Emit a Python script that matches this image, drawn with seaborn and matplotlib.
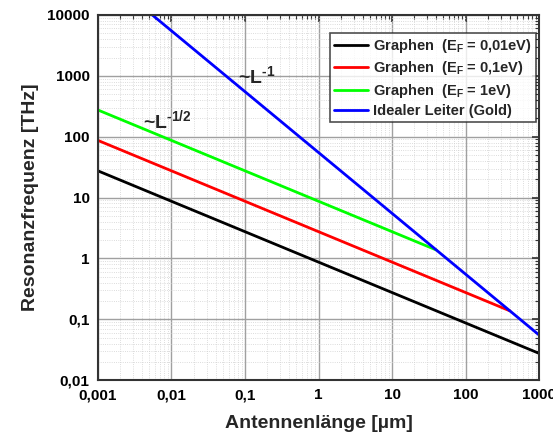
import matplotlib
matplotlib.use("Agg")
import matplotlib.pyplot as plt
import matplotlib.ticker as mticker
import numpy as np
import pandas as pd
import seaborn as sns

# Data (line endpoints on log-log axes)
labels = ["Graphen  (E$_{F}$ = 0,01eV)", "Graphen  (E$_{F}$ = 0,1eV)",
          "Graphen  (E$_{F}$ = 1eV)", "Idealer Leiter (Gold)"]
black_L = [0.001, 1000]
black_f = [27.5, 0.0275]
red_L = [0.001, 400]
red_f = [87, 0.1375]
green_L = [0.001, 40]
green_f = [275, 1.375]
blue_L = [0.0055, 1000]
blue_f = [10000, 0.055]
colors = ["#000000", "#ff0000", "#00ff00", "#0000ff"]

x_ticks = [0.001, 0.01, 0.1, 1, 10, 100, 1000]
x_ticklabels = ["0,001", "0,01", "0,1", "1", "10", "100", "1000"]
y_ticks = [0.01, 0.1, 1, 10, 100, 1000, 10000]
y_ticklabels = ["0,01", "0,1", "1", "10", "100", "1000", "10000"]

df = pd.concat([
    pd.DataFrame({"L": black_L, "f": black_f, "s": labels[0]}),
    pd.DataFrame({"L": red_L, "f": red_f, "s": labels[1]}),
    pd.DataFrame({"L": green_L, "f": green_f, "s": labels[2]}),
    pd.DataFrame({"L": blue_L, "f": blue_f, "s": labels[3]}),
], ignore_index=True)

sns.set_style("white")
plt.rcParams["font.family"] = ["Liberation Sans", "DejaVu Sans"]
plt.rcParams["font.weight"] = "bold"
plt.rcParams["mathtext.fontset"] = "custom"
plt.rcParams["mathtext.rm"] = "Liberation Sans:bold"
plt.rcParams["mathtext.it"] = "Liberation Sans:bold"
plt.rcParams["mathtext.bf"] = "Liberation Sans:bold"
plt.rcParams["mathtext.default"] = "rm"

fig = plt.figure(figsize=(5.53, 4.41), dpi=100)
ax = fig.add_axes([0.177, 0.138, 0.798, 0.828])

sns.lineplot(data=df, x="L", y="f", hue="s", palette=colors, hue_order=labels,
             linewidth=2.0, ax=ax, legend=True, estimator=None, sort=False)
ax.set_xscale("log")
ax.set_yscale("log")
ax.set_xlim(0.001, 1000)
ax.set_ylim(0.01, 10000)

ax.set_xticks(x_ticks)
ax.set_xticklabels(x_ticklabels)
ax.set_yticks(y_ticks)
ax.set_yticklabels(y_ticklabels)
ax.xaxis.set_minor_locator(mticker.LogLocator(base=10, subs=np.arange(2, 10), numticks=20))
ax.yaxis.set_minor_locator(mticker.LogLocator(base=10, subs=np.arange(2, 10), numticks=20))
ax.xaxis.set_minor_formatter(mticker.NullFormatter())
ax.yaxis.set_minor_formatter(mticker.NullFormatter())

ax.grid(True, which="major", color="#a0a0a0", linewidth=1.0)
ax.grid(True, which="minor", color="#d0d0d0", linewidth=0.6, linestyle=":")
ax.set_axisbelow(True)

ax.tick_params(which="major", direction="in", length=5, width=1.2, top=True, right=True,
               labelsize=11, colors="#333333", labelcolor="black", pad=6)
ax.tick_params(which="minor", direction="in", length=3, width=0.8, top=True, right=True,
               colors="#333333")
for lab in ax.get_xticklabels() + ax.get_yticklabels():
    lab.set_fontweight("bold")
for sp in ax.spines.values():
    sp.set_color("#333333")
    sp.set_linewidth(1.5)

ax.set_xlabel("Antennenlänge [µm]", fontsize=14, fontweight="bold", labelpad=9)
ax.set_ylabel("Resonanzfrequenz [THz]", fontsize=14, fontweight="bold", labelpad=6)

ax.text(0.08, 1000, "~L$^{\\text{-1}}$", fontsize=14, ha="left", va="center")
ax.text(0.0041, 190, "~L$^{\\text{-1/2}}$", fontsize=14, ha="left", va="center")

leg = ax.legend(loc="upper right", bbox_to_anchor=(0.993, 0.952), frameon=True,
                fancybox=False, edgecolor="#222222", fontsize=10.5, handlelength=2.3,
                handletextpad=0.35, borderpad=0.3, labelspacing=0.3, borderaxespad=0.0)
leg.get_frame().set_linewidth(1.2)
leg.set_title(None)
for t in leg.get_texts():
    t.set_fontweight("bold")

fig.savefig("out.png", dpi=100, facecolor="white")
